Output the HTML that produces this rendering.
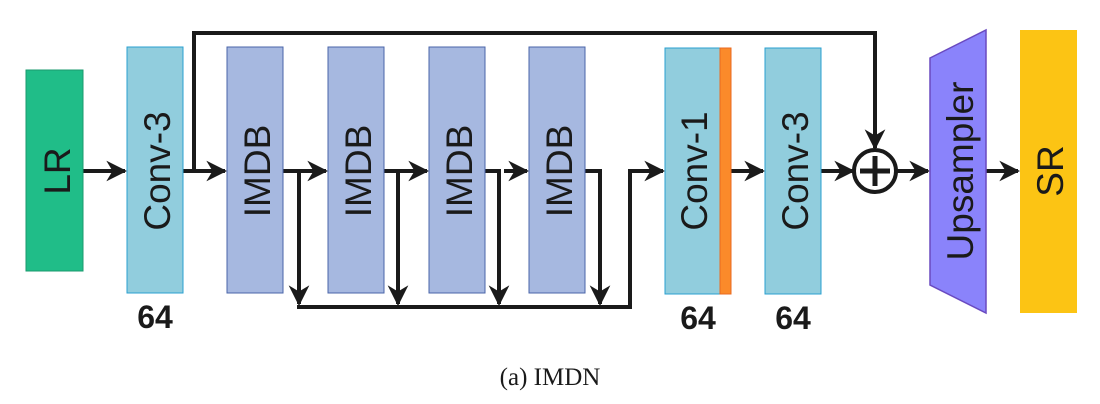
<!DOCTYPE html>
<html><head><meta charset="utf-8"><style>
html,body{margin:0;padding:0;background:#fff;}
svg{display:block;}
.lbl{font-family:"Liberation Sans",sans-serif;font-size:37px;fill:#1a1a1a;}
.num{font-family:"Liberation Sans",sans-serif;font-size:32px;font-weight:bold;fill:#1a1a1a;}
</style></head><body>
<svg width="1100" height="404" viewBox="0 0 1100 404">
<defs><marker id="ah" viewBox="0 0 10 10" refX="9" refY="5" markerWidth="5.2" markerHeight="5.2" orient="auto" markerUnits="strokeWidth"><path d="M0,0 L10,5 L0,10 L3,5 z" fill="#1a1a1a"/></marker></defs>
<g stroke="#1a1a1a" stroke-width="4" fill="none">
<line x1="83" y1="171" x2="125" y2="171" marker-end="url(#ah)"/>
<line x1="183" y1="171" x2="225" y2="171" marker-end="url(#ah)"/>
<polyline points="194,171 194,33 875,33 875,148" marker-end="url(#ah)"/>
<line x1="283" y1="171" x2="326" y2="171" marker-end="url(#ah)"/>
<line x1="384" y1="171" x2="427" y2="171" marker-end="url(#ah)"/>
<line x1="485" y1="171" x2="492" y2="171"/>
<line x1="504" y1="171" x2="527" y2="171" marker-end="url(#ah)"/>
<polyline points="283,171 299,171 299,304" marker-end="url(#ah)"/>
<polyline points="384,171 398,171 398,304" marker-end="url(#ah)"/>
<polyline points="485,171 499,171 499,304" marker-end="url(#ah)"/>
<polyline points="585,171 600,171 600,304" marker-end="url(#ah)"/>
<polyline points="297,307 630,307 630,171 663,171" marker-end="url(#ah)"/>
<line x1="731" y1="171" x2="763" y2="171" marker-end="url(#ah)"/>
<line x1="821" y1="171" x2="853" y2="171" marker-end="url(#ah)"/>
<line x1="897" y1="171" x2="928" y2="171" marker-end="url(#ah)"/>
<line x1="986" y1="171" x2="1018" y2="171" marker-end="url(#ah)"/>
</g>
<g><rect x="26" y="70" width="57" height="201" fill="#20bd88" stroke="#1a9a6e"/><text class="lbl" transform="translate(70,171) rotate(-90)" text-anchor="middle">LR</text></g>
<g><rect x="127" y="47" width="56" height="246" fill="#91cddd" stroke="#2aa0d0"/><text class="lbl" transform="translate(170,171) rotate(-90)" text-anchor="middle">Conv-3</text></g>
<g><rect x="227" y="47" width="56" height="246" fill="#a6b8e0" stroke="#4a64a8"/><text class="lbl" transform="translate(270,171) rotate(-90)" text-anchor="middle">IMDB</text></g>
<g><rect x="328" y="47" width="56" height="246" fill="#a6b8e0" stroke="#4a64a8"/><text class="lbl" transform="translate(371,171) rotate(-90)" text-anchor="middle">IMDB</text></g>
<g><rect x="429" y="47" width="56" height="246" fill="#a6b8e0" stroke="#4a64a8"/><text class="lbl" transform="translate(472,171) rotate(-90)" text-anchor="middle">IMDB</text></g>
<g><rect x="529" y="47" width="56" height="246" fill="#a6b8e0" stroke="#4a64a8"/><text class="lbl" transform="translate(572,171) rotate(-90)" text-anchor="middle">IMDB</text></g>
<g><rect x="665" y="48" width="55" height="246" fill="#91cddd" stroke="#2aa0d0"/><rect x="720" y="48" width="11" height="246" fill="#fb8a2a" stroke="#e96a20"/><text class="lbl" transform="translate(707,171) rotate(-90)" text-anchor="middle">Conv-1</text></g>
<g><rect x="765" y="48" width="56" height="246" fill="#91cddd" stroke="#2aa0d0"/><text class="lbl" transform="translate(808,171) rotate(-90)" text-anchor="middle">Conv-3</text></g>
<g><circle cx="875" cy="171" r="21" fill="#fff" stroke="#1a1a1a" stroke-width="4"/><line x1="860" y1="171" x2="890" y2="171" stroke="#1a1a1a" stroke-width="5"/><line x1="875" y1="156" x2="875" y2="186" stroke="#1a1a1a" stroke-width="5"/></g>
<g><polygon points="930,58 986,30 986,313 930,285" fill="#8a83fb" stroke="#6a4ac0" stroke-width="1.5"/><text class="lbl" transform="translate(973,171) rotate(-90)" text-anchor="middle">Upsampler</text></g>
<g><rect x="1020" y="30" width="57" height="283" fill="#fcc414"/><text class="lbl" transform="translate(1063,171) rotate(-90)" text-anchor="middle">SR</text></g>
<text class="num" x="155" y="328" text-anchor="middle">64</text>
<text class="num" x="698" y="329" text-anchor="middle">64</text>
<text class="num" x="793" y="329" text-anchor="middle">64</text>
<text x="550" y="385" text-anchor="middle" font-family="'Liberation Serif',serif" font-size="25" fill="#1a1a1a">(a)  IMDN</text>
</svg>
</body></html>
